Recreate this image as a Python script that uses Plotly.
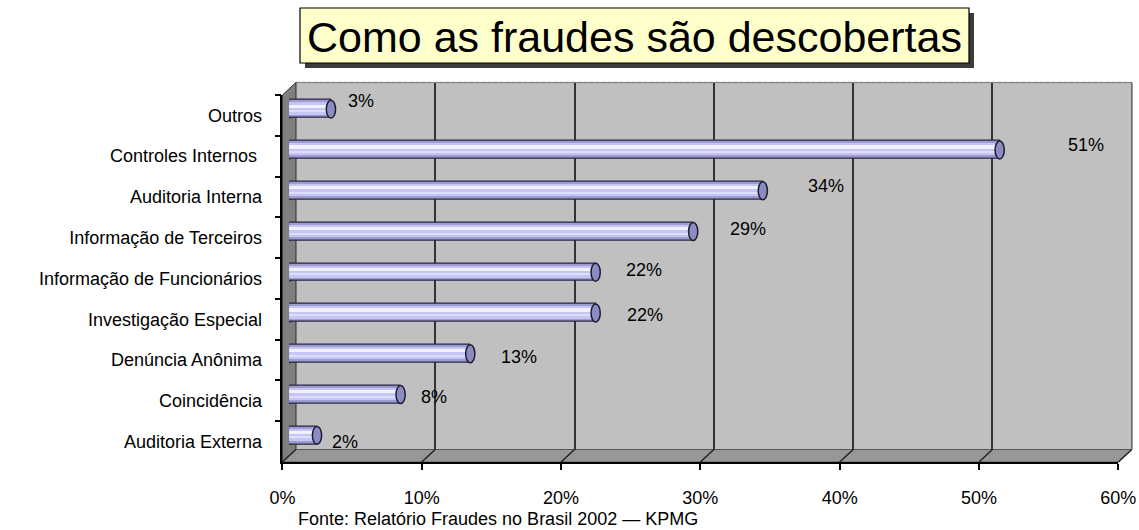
import plotly.graph_objects as go

# ---------------- data ----------------
categories = ["Outros", "Controles Internos ", "Auditoria Interna", "Informação de Terceiros",
              "Informação de Funcionários", "Investigação Especial", "Denúncia Anônima",
              "Coincidência", "Auditoria Externa"]
values = [3, 51, 34, 29, 22, 22, 13, 8, 2]
x_ticks = [0, 10, 20, 30, 40, 50, 60]
x_ticktext = ["0%", "10%", "20%", "30%", "40%", "50%", "60%"]
title_text = "Como as fraudes são descobertas"
source_text = "Fonte: Relatório Fraudes no Brasil 2002 — KPMG"

# label nudges (pixels) as placed in the original
label_dx = [22, 73, 50, 42, 35, 36, 35, 25, 20]
label_dy = [14, 11, 11, 9, 9, 4, 3, 4, 0]

# ---------------- geometry (pixels) ----------------
W, H = 1139, 530
FX0, FX1 = 282.4, 1118.3      # front axis x extent
FY0, FY1 = 95, 462            # front axis y extent (top, bottom)
DX, DY = 13.5, -12.5          # 3D depth offset
FONT = "Liberation Sans, Arial, sans-serif"

def px(x):
    return x / W

def py(y):
    return 1 - y / H

n = len(categories)
cat_range = [n - 0.5, -0.5]
scale = (FX1 - FX0) / 60.0

fig = go.Figure()

# front axes carrier (invisible)
fig.add_trace(go.Scatter(x=values, y=categories, mode="markers", marker=dict(opacity=0),
                         hoverinfo="skip", showlegend=False, xaxis="x", yaxis="y"))
# back wall gridline carrier (invisible)
fig.add_trace(go.Scatter(x=[0, 60], y=[0, 1], mode="markers", marker=dict(opacity=0),
                         hoverinfo="skip", showlegend=False, xaxis="x2", yaxis="y2"))

# cylinder bars (layered for shading)
fig.add_trace(go.Bar(x=values, y=categories, orientation="h", width=0.44,
                     marker=dict(color="#9d9dd2", line=dict(color="#262644", width=1.3)),
                     hoverinfo="skip", showlegend=False, xaxis="x3", yaxis="y3"))
fig.add_trace(go.Bar(x=values, y=categories, orientation="h", width=0.30, offset=-0.17,
                     marker=dict(color="#c6c6f4", line=dict(width=0)),
                     hoverinfo="skip", showlegend=False, xaxis="x3", yaxis="y3"))
fig.add_trace(go.Bar(x=values, y=categories, orientation="h", width=0.08, offset=-0.12,
                     marker=dict(color="#f0f0ff", line=dict(width=0)),
                     hoverinfo="skip", showlegend=False, xaxis="x3", yaxis="y3"))
fig.add_trace(go.Bar(x=values, y=categories, orientation="h", width=0.05, offset=0.02,
                     marker=dict(color="#dedefc", line=dict(width=0)),
                     hoverinfo="skip", showlegend=False, xaxis="x3", yaxis="y3"))

shapes = []
# back wall
shapes.append(dict(type="rect", xref="paper", yref="paper", layer="below",
                   x0=px(FX0 + DX), x1=px(FX1 + DX), y0=py(FY1 + DY), y1=py(FY0 + DY),
                   fillcolor="#c0c0c0", line=dict(color="#7a7a7a", width=1)))
# top dotted edge
shapes.append(dict(type="line", xref="paper", yref="paper", layer="below",
                   x0=px(FX0 + DX), x1=px(FX1 + DX), y0=py(FY0 + DY), y1=py(FY0 + DY),
                   line=dict(color="#8a8a8a", width=1.5, dash="dot")))
# left wall
shapes.append(dict(type="path", xref="paper", yref="paper", layer="below",
                   path=f"M {px(FX0)},{py(FY0)} L {px(FX0+DX)},{py(FY0+DY)} L {px(FX0+DX)},{py(FY1+DY)} L {px(FX0)},{py(FY1)} Z",
                   fillcolor="#7f7f7f", line=dict(color="#333333", width=1)))
# floor
shapes.append(dict(type="path", xref="paper", yref="paper", layer="below",
                   path=f"M {px(FX0)},{py(FY1)} L {px(FX0+DX)},{py(FY1+DY)} L {px(FX1+DX)},{py(FY1+DY)} L {px(FX1)},{py(FY1)} Z",
                   fillcolor="#979797", line=dict(color="#555555", width=1)))
# floor diagonals at ticks
for v in x_ticks:
    xf = FX0 + v * scale
    shapes.append(dict(type="line", xref="paper", yref="paper", layer="below",
                       x0=px(xf), y0=py(FY1), x1=px(xf + DX), y1=py(FY1 + DY),
                       line=dict(color="#222222", width=1.5)))
# right wall edge
shapes.append(dict(type="line", xref="paper", yref="paper", layer="below",
                   x0=px(FX1 + DX), x1=px(FX1 + DX), y0=py(FY1 + DY), y1=py(FY0 + DY),
                   line=dict(color="#6a6a6a", width=1.5)))

# cylinder caps (left, behind bars) and end faces (right)
for i, v in enumerate(values):
    shapes.append(dict(type="circle", xref="x3", yref="y3", layer="below",
                       x0=-0.33, x1=0.33, y0=i - 0.22, y1=i + 0.22,
                       fillcolor="#9d9dd2", line=dict(color="#262644", width=1.3)))
    shapes.append(dict(type="circle", xref="x3", yref="y3", layer="above",
                       x0=v - 0.33, x1=v + 0.33, y0=i - 0.22, y1=i + 0.22,
                       fillcolor="#8c8cc0", line=dict(color="#1c1c36", width=1.5)))

# title box with shadow
TB = (300, 8, 969, 63)
shapes.append(dict(type="rect", xref="paper", yref="paper", layer="above",
                   x0=px(TB[0] + 5), x1=px(TB[2] + 5), y0=py(TB[3] + 5), y1=py(TB[1] + 5),
                   fillcolor="#3c3c3c", line=dict(width=0)))
shapes.append(dict(type="rect", xref="paper", yref="paper", layer="above",
                   x0=px(TB[0]), x1=px(TB[2]), y0=py(TB[3]), y1=py(TB[1]),
                   fillcolor="#ffffcc", line=dict(color="#000000", width=1.2)))

annotations = []
for i, (c, v) in enumerate(zip(categories, values)):
    annotations.append(dict(xref="x", yref="y", x=v, y=c, text=f"{v}%", showarrow=False,
                            xanchor="left", yanchor="middle", xshift=label_dx[i], yshift=label_dy[i],
                            font=dict(family=FONT, size=18, color="#000000")))
annotations.append(dict(xref="paper", yref="paper", x=px((TB[0] + TB[2]) / 2), y=py(37),
                        text=title_text, showarrow=False, xanchor="center", yanchor="middle",
                        font=dict(family=FONT, size=43, color="#000000")))
annotations.append(dict(xref="paper", yref="paper", x=px(296), y=py(519),
                        text=source_text, showarrow=False, xanchor="left", yanchor="middle",
                        font=dict(family=FONT, size=18, color="#000000")))

tickfont = dict(family=FONT, size=18, color="#000000")
fig.update_layout(
    width=W, height=H, margin=dict(l=0, r=0, t=0, b=0, autoexpand=False),
    paper_bgcolor="#ffffff", plot_bgcolor="rgba(0,0,0,0)",
    barmode="overlay", bargap=0, showlegend=False,
    shapes=shapes, annotations=annotations,
    xaxis=dict(domain=[px(FX0), px(FX1)], range=[0, 60], tickvals=x_ticks, ticktext=x_ticktext,
               ticks="outside", ticklen=6, tickwidth=2, tickcolor="#000000",
               showline=True, linecolor="#000000", linewidth=1.5, showgrid=False, zeroline=False,
               anchor="y", ticklabelstandoff=13, fixedrange=True, automargin=False,
               tickfont=tickfont),
    yaxis=dict(domain=[py(FY1), py(FY0)], type="category", categoryarray=categories,
               categoryorder="array", range=cat_range, ticks="outside", tickson="boundaries",
               ticklen=6, tickwidth=2, tickcolor="#000000", showline=True, linecolor="#000000",
               linewidth=1.5, showgrid=False, zeroline=False, anchor="x", ticklabelstandoff=15,
               fixedrange=True, automargin=False, tickfont=tickfont),
    xaxis2=dict(domain=[px(FX0 + DX), px(FX1 + DX)], range=[0, 60], tickvals=[10, 20, 30, 40, 50],
                showticklabels=False, ticks="", showgrid=True, gridcolor="#333333", gridwidth=2,
                zeroline=False, showline=False, anchor="y2", fixedrange=True, automargin=False),
    yaxis2=dict(domain=[py(FY1 + DY), py(FY0 + DY)], range=[0, 1], visible=False, anchor="x2",
                fixedrange=True, automargin=False),
    xaxis3=dict(domain=[px(FX0 + DX / 2), px(FX1 + DX / 2)], range=[0, 60], visible=False,
                anchor="y3", fixedrange=True, automargin=False),
    yaxis3=dict(domain=[py(FY1 + DY / 2), py(FY0 + DY / 2)], type="category",
                categoryarray=categories, categoryorder="array", range=cat_range, visible=False,
                anchor="x3", fixedrange=True, automargin=False),
)

fig.write_html("out.html", config=dict(displayModeBar=False))
